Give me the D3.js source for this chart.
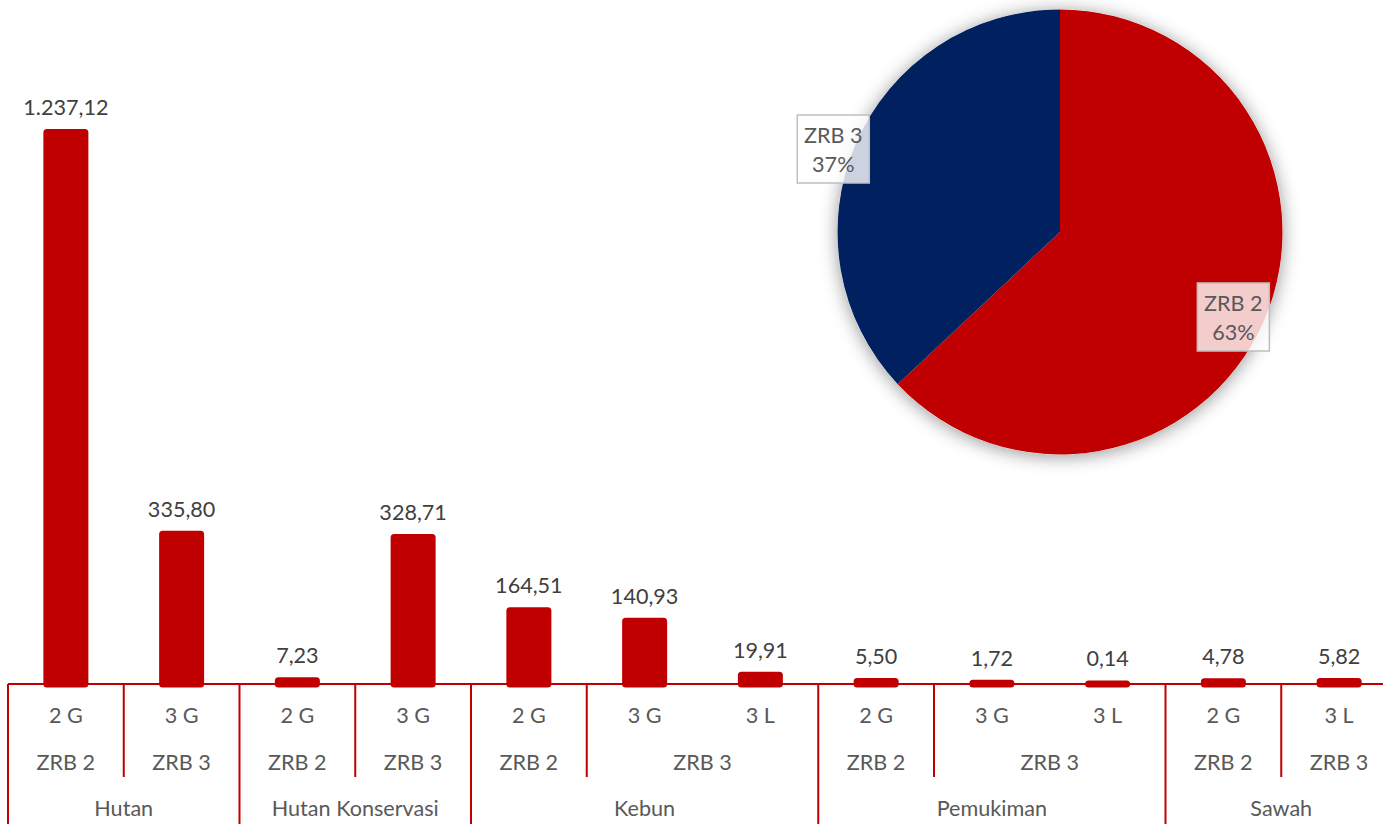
<!DOCTYPE html>
<html>
<head>
<meta charset="utf-8">
<script src="https://cdn.jsdelivr.net/npm/d3@7/dist/d3.min.js"></script>
<style>
  html, body { margin: 0; padding: 0; background: #ffffff; }
  svg { display: block; }
  text { font-family: Lato, "Open Sans", sans-serif; }
</style>
</head>
<body>
<svg id="chart" width="1383" height="824"></svg>
<script>
// Land use (top level), hazard zone (middle level) and class (leaf level) per bar
const groups  = ["Hutan", "Hutan", "Hutan Konservasi", "Hutan Konservasi", "Kebun", "Kebun", "Kebun",
                 "Pemukiman", "Pemukiman", "Pemukiman", "Sawah", "Sawah"];
const zones   = ["ZRB 2", "ZRB 3", "ZRB 2", "ZRB 3", "ZRB 2", "ZRB 3", "ZRB 3",
                 "ZRB 2", "ZRB 3", "ZRB 3", "ZRB 2", "ZRB 3"];
const classes = ["2 G", "3 G", "2 G", "3 G", "2 G", "3 G", "3 L", "2 G", "3 G", "3 L", "2 G", "3 L"];
const values  = [1237.12, 335.80, 7.23, 328.71, 164.51, 140.93, 19.91, 5.50, 1.72, 0.14, 4.78, 5.82];

// Share of the area per hazard zone
const pieLabels = ["ZRB 2", "ZRB 3"];
const pieValues = [1419.14, 833.03];

const RED = "#C00000", NAVY = "#002060";
const FS = 21.6;
const idFmt = d3.formatLocale({ decimal: ",", thousands: ".", grouping: [3], currency: ["Rp", ""] });
const fmtVal = idFmt.format(",.2f");

const svg = d3.select("#chart");

// ---------- bar chart ----------
const baseY = 684;
const keys = values.map((_, i) => i);
const x = d3.scaleBand().domain(keys).range([8, 1397]).padding(0);
const y = d3.scaleLinear().domain([0, 1400]).range([baseY, 60]);
const barW = 38, barStroke = 7;

// category axis: horizontal line and boundary ticks
const axisG = svg.append("g");
axisG.append("line")
  .attr("x1", x.range()[0]).attr("x2", x.range()[1])
  .attr("y1", baseY).attr("y2", baseY)
  .attr("stroke", RED).attr("stroke-width", 2);

const boundaries = [];
for (let i = 0; i <= keys.length; i++) {
  const prev = i - 1, next = i;
  let kind = null;
  if (i === 0 || i === keys.length || groups[prev] !== groups[next]) kind = "group";
  else if (zones[prev] !== zones[next]) kind = "zone";
  if (kind) boundaries.push({ pos: i === keys.length ? x.range()[1] : x(i), kind });
}
axisG.selectAll("line.tick")
  .data(boundaries)
  .join("line")
  .attr("class", "tick")
  .attr("x1", d => d.pos).attr("x2", d => d.pos)
  .attr("y1", baseY).attr("y2", d => d.kind === "group" ? 830 : 777)
  .attr("stroke", RED).attr("stroke-width", 2);

// leaf labels via d3 axis
const leafAxis = d3.axisBottom(x).tickSize(0).tickPadding(0).tickFormat(i => classes[i]);
const leafG = svg.append("g").attr("transform", `translate(0,${baseY})`).call(leafAxis);
leafG.select(".domain").remove();
leafG.selectAll("text")
  .attr("y", 39).attr("dy", null)
  .attr("font-family", "Lato, 'Open Sans', sans-serif")
  .attr("font-size", FS).attr("fill", "#595959");

// spans for middle and top levels
function spans(arr, parent) {
  const out = [];
  arr.forEach((v, i) => {
    const last = out[out.length - 1];
    if (last && last.label === v && (!parent || parent[i] === parent[last.start])) last.end = i;
    else out.push({ label: v, start: i, end: i });
  });
  return out;
}
const zoneSpans = spans(zones, groups);
const groupSpans = spans(groups, null);
const spanCenter = s => (x(s.start) + x(s.end) + x.bandwidth()) / 2;

svg.append("g").selectAll("text")
  .data(zoneSpans).join("text")
  .attr("x", spanCenter).attr("y", 770)
  .attr("text-anchor", "middle").attr("font-size", FS).attr("fill", "#595959")
  .text(d => d.label);

svg.append("g").selectAll("text")
  .data(groupSpans).join("text")
  .attr("x", spanCenter).attr("y", 816)
  .attr("text-anchor", "middle").attr("font-size", FS).attr("fill", "#595959")
  .text(d => d.label);

// bars
svg.append("g").selectAll("rect")
  .data(keys).join("rect")
  .attr("x", i => x(i) + x.bandwidth() / 2 - barW / 2)
  .attr("width", barW)
  .attr("y", i => y(values[i]))
  .attr("height", i => Math.max(0.01, y(0) - y(values[i])))
  .attr("fill", RED).attr("stroke", RED)
  .attr("stroke-width", barStroke).attr("stroke-linejoin", "round");

// value labels
svg.append("g").selectAll("text")
  .data(keys).join("text")
  .attr("x", i => x(i) + x.bandwidth() / 2)
  .attr("y", i => y(values[i]) - barStroke / 2 - 14)
  .attr("text-anchor", "middle").attr("font-size", FS).attr("fill", "#404040")
  .text(i => fmtVal(values[i]));

// ---------- pie chart ----------
const defs = svg.append("defs");
const shadow = defs.append("filter").attr("id", "pieShadow")
  .attr("x", "-20%").attr("y", "-20%").attr("width", "140%").attr("height", "140%");
shadow.append("feDropShadow")
  .attr("dx", 0).attr("dy", 2).attr("stdDeviation", 9)
  .attr("flood-color", "#000").attr("flood-opacity", 0.42);

const pieCx = 1060, pieCy = 232, pieR = 222.5;
const pieG = svg.append("g").attr("transform", `translate(${pieCx},${pieCy})`);
const pie = d3.pie().sort(null).value(d => d)(pieValues);
const arc = d3.arc().innerRadius(0).outerRadius(pieR);
const pieColors = [RED, NAVY];

pieG.append("circle").attr("r", pieR).attr("fill", "#fff").attr("filter", "url(#pieShadow)");
pieG.selectAll("path")
  .data(pie).join("path")
  .attr("d", arc)
  .attr("fill", (d, i) => pieColors[i]);

// data label anchors, as fractions of the radius
const labelAnchor = [[0.779, 0.382], [-1.019, -0.373]];
const pctFmt = d3.format(".0%");
const total = d3.sum(pieValues);
const boxW = 72, boxH = 68;
const lbl = pieG.selectAll("g.lbl")
  .data(pie).join("g")
  .attr("class", "lbl")
  .attr("transform", (d, i) => `translate(${labelAnchor[i][0] * pieR},${labelAnchor[i][1] * pieR})`);
lbl.append("rect")
  .attr("x", -boxW / 2).attr("y", -boxH / 2).attr("width", boxW).attr("height", boxH)
  .attr("fill", "#fff").attr("fill-opacity", 0.8)
  .attr("stroke", "#BFBFBF").attr("stroke-width", 1.5);
lbl.append("text")
  .attr("y", -6).attr("text-anchor", "middle").attr("font-size", FS).attr("fill", "#595959")
  .text((d, i) => pieLabels[i]);
lbl.append("text")
  .attr("y", 23).attr("text-anchor", "middle").attr("font-size", FS).attr("fill", "#595959")
  .text(d => pctFmt(d.value / total));
</script>
</body>
</html>
